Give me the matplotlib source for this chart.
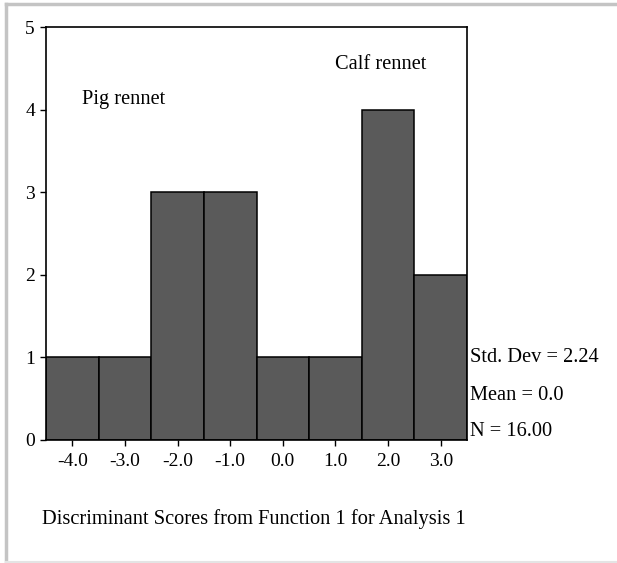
import matplotlib.pyplot as plt
from matplotlib.lines import Line2D

# histogram of discriminant scores
centers = [-4.0, -3.0, -2.0, -1.0, 0.0, 1.0, 2.0, 3.0]
counts = [1, 1, 3, 3, 1, 1, 4, 2]
tick_labels = ['-4.0', '-3.0', '-2.0', '-1.0', '0.0', '1.0', '2.0', '3.0']
stats = ['Std. Dev = 2.24', 'Mean = 0.0', 'N = 16.00']

plt.rcParams['font.family'] = ['Liberation Serif', 'DejaVu Serif']

fig = plt.figure(figsize=(6.17, 5.63), dpi=100)
ax = fig.add_axes([46/617, 1 - 440/563, 421/617, 413/563])

ax.bar(centers, counts, width=1.0, color='#5a5a5a', edgecolor='black', linewidth=1.1)
ax.set_xlim(-4.5, 3.5)
ax.set_ylim(0, 5)
ax.set_xticks(centers)
ax.set_xticklabels(tick_labels)
ax.set_yticks([0, 1, 2, 3, 4, 5])
ax.tick_params(labelsize=14, length=4, width=1, direction='out', pad=5)
ax.tick_params(axis='y', pad=4)
for s in ax.spines.values():
    s.set_linewidth(1.2)

ax.text(-3.82, 4.12, 'Pig rennet', fontsize=14.7, va='center', ha='left')
ax.text(1.0, 4.55, 'Calf rennet', fontsize=14.7, va='center', ha='left')

for i, s in enumerate(stats):
    fig.text(470/617, 1 - (358 + 37*i)/563, s, fontsize=14.7, va='center', ha='left')

fig.text(42/617, 1 - 519/563, 'Discriminant Scores from Function 1 for Analysis 1',
         fontsize=14.7, va='center', ha='left')

# light gray frame around the picture
fig.add_artist(Line2D([6/617, 6/617], [0, 1 - 4/563], transform=fig.transFigure,
                      color='#c4c4c4', linewidth=2.5))
fig.add_artist(Line2D([6/617, 1], [1 - 4/563, 1 - 4/563], transform=fig.transFigure,
                      color='#c4c4c4', linewidth=2.5))
fig.add_artist(Line2D([6/617, 1], [1/563, 1/563], transform=fig.transFigure,
                      color='#e4e4e4', linewidth=1.5))

fig.savefig('out.png', dpi=100)
